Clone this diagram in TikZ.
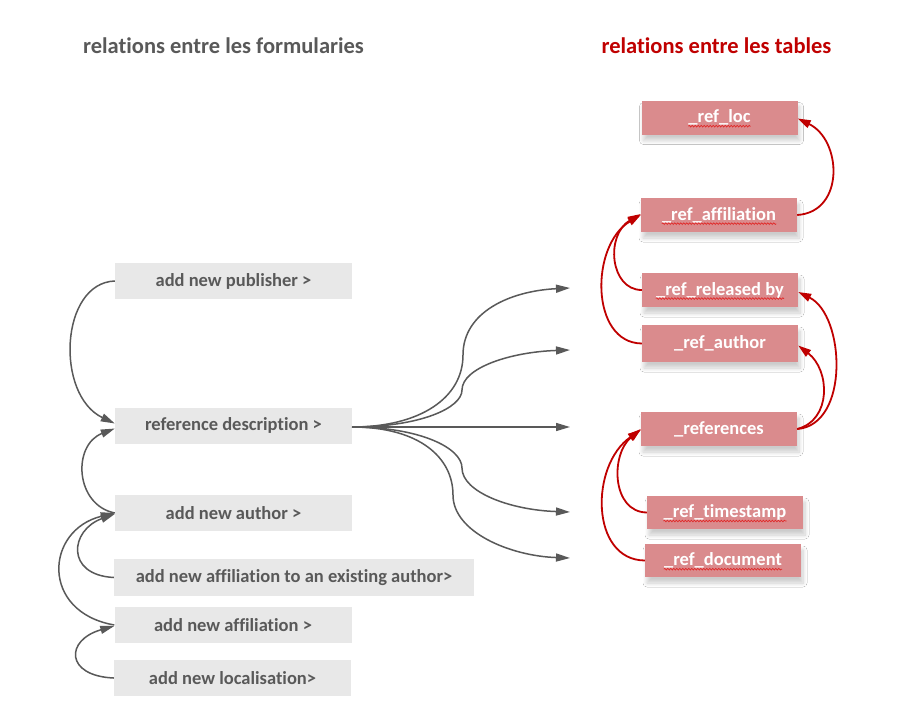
\documentclass[tikz,border=0pt]{standalone}
\usepackage{fontspec}
\setmainfont[Ligatures=NoCommon]{Carlito}
\usetikzlibrary{arrows.meta,shadows.blur,decorations.pathmorphing}
\definecolor{gtext}{HTML}{595959}
\definecolor{gfill}{HTML}{E8E8E8}
\definecolor{rfill}{HTML}{DA8B8D}
\definecolor{rline}{HTML}{C00000}
\definecolor{wavec}{HTML}{E02828}
\newlength\uscw
\newlength\byw
\newcommand\boxfont{\fontsize{18.5}{22}\selectfont\bfseries}
\begin{document}
\begin{tikzpicture}[x=1pt,y=-1pt,
  formbox/.style={fill=gfill,minimum width=237pt,minimum height=36pt,inner sep=0pt,
    text=gtext,font=\boxfont},
  tablebox/.style={fill=rfill,minimum width=156pt,minimum height=34pt,inner sep=0pt,
    blur shadow={shadow xshift=2pt,shadow yshift=-6pt,shadow blur steps=8,shadow blur radius=4pt,shadow opacity=20}},
  tabletext/.style={inner sep=0pt,text=white,font=\boxfont},
  spell/.style={draw=wavec,line width=0.7pt,decorate,decoration={snake,amplitude=0.8pt,segment length=3pt}},
  garrow/.style={draw=gtext,line width=1.5pt,-{Triangle[length=14pt,width=8pt]}},
  rarrow/.style={draw=rline,line width=1.8pt,-{Triangle[length=13pt,width=8pt]}},
  title/.style={font=\fontsize{22.5}{26}\selectfont\bfseries}]
\settowidth{\uscw}{\boxfont\_}
\settowidth{\byw}{\boxfont\ by}
\useasboundingbox (0,0) rectangle (906,728);
\fill[white] (0,0) rectangle (906,728);
% titles
\node[title,text=gtext] (t1) at (223.5,46) {relations entre les formularies};
\node[title,text=rline] (t2) at (716.5,46) {relations entre les tables};
% form boxes
\node[formbox] (pub) at (233.5,281) {add new publisher >};
\node[formbox] (desc) at (233.5,425.5) {reference description >};
\node[formbox] (auth) at (233.5,513) {add new author >};
\node[formbox,minimum width=360pt,minimum height=37pt] (exist) at (294,577.5) {add new affiliation to an existing author>};
\node[formbox] (aff) at (233,625) {add new affiliation >};
\node[formbox] (loc) at (232.5,678) {add new localisation>};
% table boxes
\node[tablebox] (rloc) at (719.5,117.5) {};
\node[tablebox] (raff) at (719,215) {};
\node[tablebox] (rrel) at (720,290) {};
\node[tablebox,minimum height=37pt] (raut) at (720,343.5) {};
\node[tablebox] (rref) at (719,429) {};
\node[tablebox,minimum height=33pt] (rts) at (725,512.5) {};
\node[tablebox,minimum height=33pt] (rdoc) at (723,560.5) {};
% table texts
\node[tabletext] (rloc-t) at (rloc) {\_ref\_loc};
\node[tabletext] (raff-t) at (raff) {\_ref\_affiliation};
\node[tabletext] (rrel-t) at (rrel) {\_ref\_released by};
\node[tabletext] (raut-t) at (raut) {\_ref\_author};
\node[tabletext] (rref-t) at (rref) {\_references};
\node[tabletext] (rts-t) at (rts) {\_ref\_timestamp};
\node[tabletext] (rdoc-t) at (rdoc) {\_ref\_document};
% spelling underlines
\draw[spell] ([xshift=\uscw,yshift=-3.5pt]rloc-t.base west) -- ([yshift=-3.5pt]rloc-t.base east);
\draw[spell] ([xshift=\uscw,yshift=-3.5pt]raff-t.base west) -- ([yshift=-3.5pt]raff-t.base east);
\draw[spell] ([xshift=\uscw,yshift=-3.5pt]rrel-t.base west) -- ([xshift=-\byw,yshift=-3.5pt]rrel-t.base east);
\draw[spell] ([xshift=\uscw,yshift=-3.5pt]rts-t.base west) -- ([yshift=-3.5pt]rts-t.base east);
\draw[spell] ([xshift=\uscw,yshift=-3.5pt]rdoc-t.base west) -- ([yshift=-3.5pt]rdoc-t.base east);
% free ends of the fan
\coordinate (e1) at (570,288);
\coordinate (e2) at (570,350);
\coordinate (e3) at (570,427);
\coordinate (e4) at (570,512);
\coordinate (e5) at (570,558);
\coordinate (s0) at (352,427);
% fan
\draw[garrow] (s0) .. controls (420,427) and (463,398) .. (463,355) .. controls (463,312) and (510,291) .. (e1);
\draw[garrow] (s0) .. controls (420,427) and (462,408) .. (462,390) .. controls (462,368) and (510,352) .. (e2);
\draw[garrow] (s0) -- (e3);
\draw[garrow] (s0) .. controls (420,427) and (462,448) .. (462,468) .. controls (462,492) and (510,510) .. (e4);
\draw[garrow] (s0) .. controls (420,427) and (453,458) .. (453,495) .. controls (453,532) and (510,556) .. (e5);
% left grey curves
\draw[garrow] (pub.west) .. controls (60,283) and (55,395) .. ([yshift=2pt]desc.west);
\draw[garrow] (auth.west) .. controls (75,505) and (72,445) .. ([yshift=-3pt]desc.west);
\draw[garrow] (exist.west) .. controls (65,575) and (70,530) .. ([yshift=-1pt]auth.west);
\draw[garrow] (aff.west) .. controls (40,612) and (45,530) .. ([yshift=0pt]auth.west);
\draw[garrow] (loc.west) .. controls (65,676) and (65,640) .. ([yshift=-1pt]aff.west);
% red curves
\draw[rarrow] (raff.east) .. controls (845,212) and (842,140) .. ([yshift=-1pt]rloc.east);
\draw[rarrow] (rrel.west) .. controls (610,290) and (605,235) .. ([yshift=1pt]raff.west);
\draw[rarrow] (raut.west) .. controls (590,343) and (590,245) .. ([yshift=0pt]raff.west);
\draw[rarrow] (rref.east) .. controls (850,425) and (845,315) .. ([yshift=-2pt]rrel.east);
\draw[rarrow] (rref.east) .. controls (832,420) and (830,370) .. ([yshift=-2pt]raut.east);
\draw[rarrow] (rts.west) .. controls (612,512) and (610,455) .. ([yshift=0pt]rref.west);
\draw[rarrow] (rdoc.west) .. controls (590,560) and (590,465) .. ([yshift=-1pt]rref.west);
\end{tikzpicture}
\end{document}
